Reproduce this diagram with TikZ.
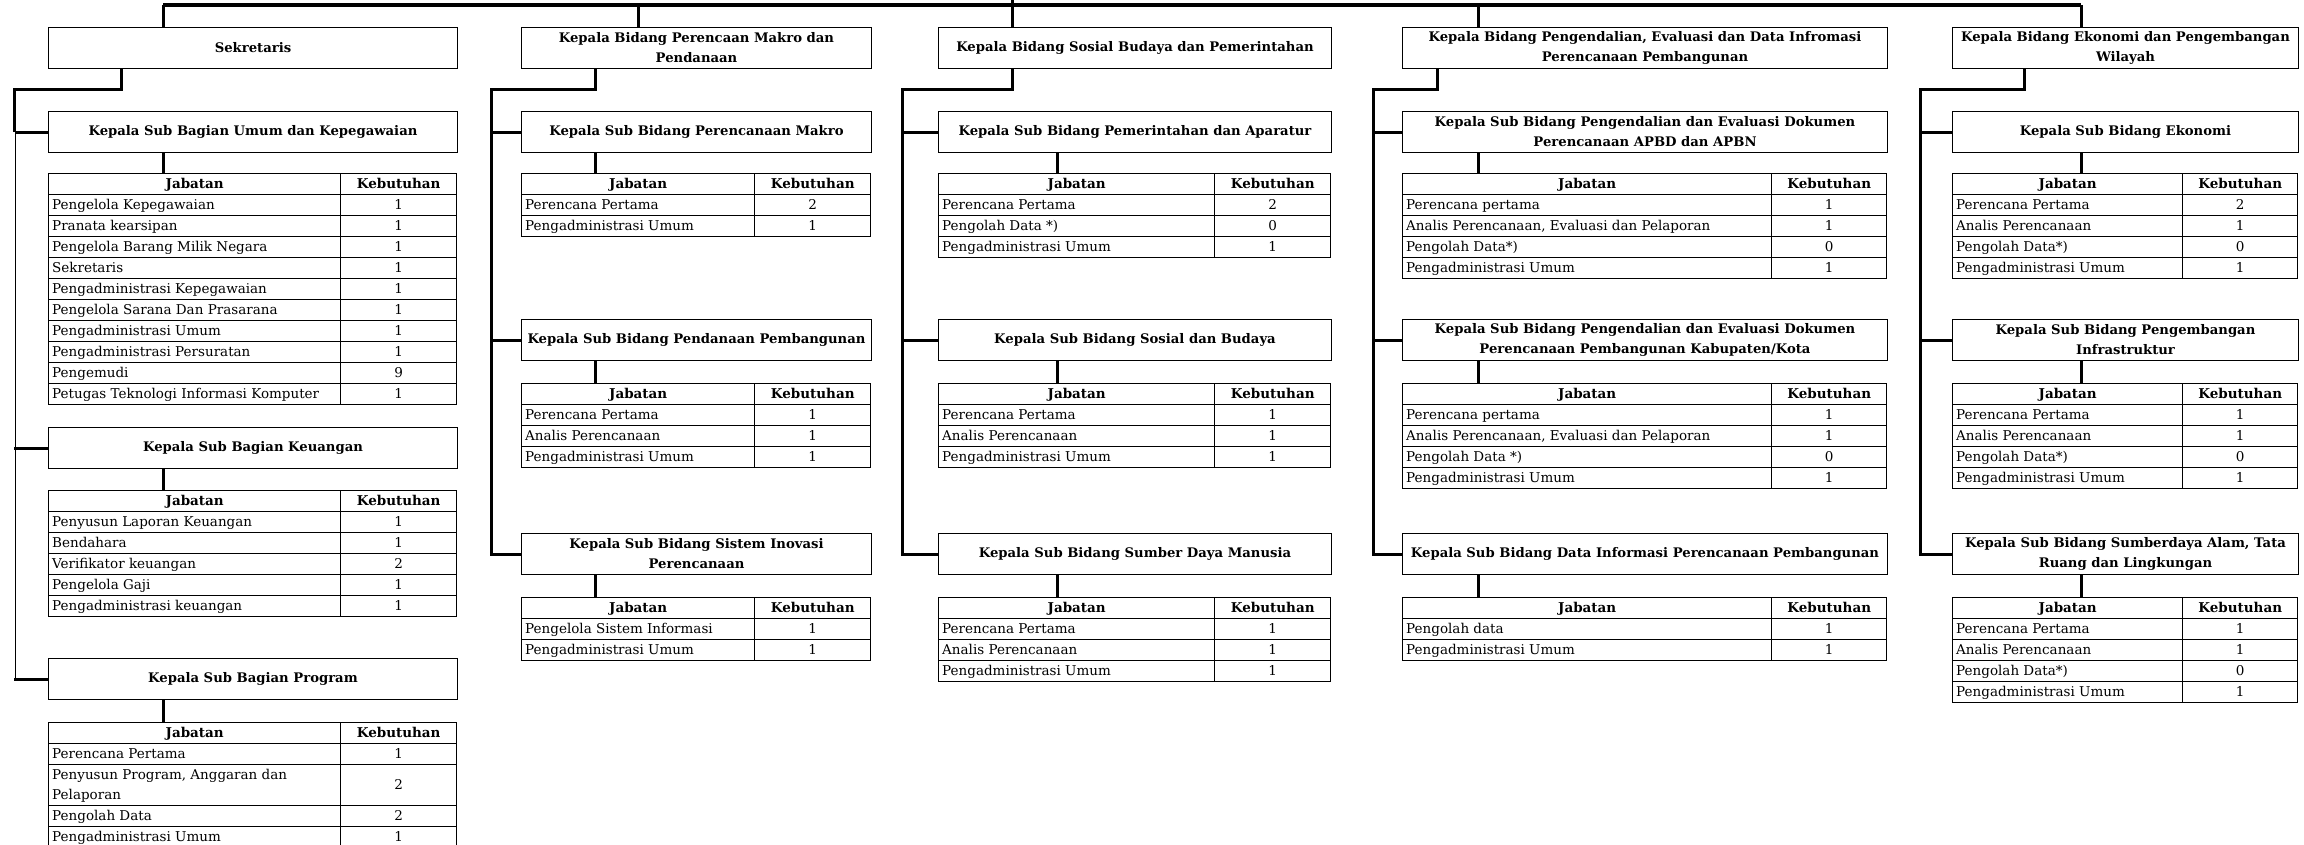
\documentclass[tikz,border=0pt]{standalone}
\usepackage{fontspec}
\setmainfont{DejaVu Serif}
\usepackage{array}
\setlength{\arrayrulewidth}{1pt}
\setlength{\tabcolsep}{3pt}
\renewcommand{\arraystretch}{1}
% table of posts: widths of both columns, then the rows
\newcommand{\jabtab}[3]{%
  \begin{tabular}{|m{#1pt}|>{\centering\arraybackslash}m{#2pt}|}\hline
  \multicolumn{1}{|c|}{\bfseries Jabatan} & \bfseries Kebutuhan\\\hline
  #3
  \end{tabular}}

\begin{document}
\begin{tikzpicture}[x=1pt,y=-1pt,
  boss/.style={draw,line width=1pt,minimum height=41,inner sep=2,align=center,
    anchor=north west,font=\bfseries\fontsize{13.2}{20}\selectfont},
  tab/.style={inner sep=0,anchor=north west,font=\fontsize{13.5}{20}\selectfont},
  bus/.style={line width=4pt},
  link/.style={line width=3pt},
  thinlink/.style={draw=black,double=white,line width=0.8pt,double distance=1.4pt}]
\useasboundingbox (0,0) rectangle (2304,844);

% column 1
\node[boss,minimum width=409] (sek) at (48,27) {Sekretaris};
\node[boss,minimum width=409] (umum) at (48,111) {Kepala Sub Bagian Umum dan Kepegawaian};
\node[tab] (tumum) at (48,173) {\jabtab{285}{109}{%
  Pengelola Kepegawaian & 1\\\hline
  Pranata kearsipan & 1\\\hline
  Pengelola Barang Milik Negara & 1\\\hline
  Sekretaris & 1\\\hline
  Pengadministrasi Kepegawaian & 1\\\hline
  Pengelola Sarana Dan Prasarana & 1\\\hline
  Pengadministrasi Umum & 1\\\hline
  Pengadministrasi Persuratan & 1\\\hline
  Pengemudi & 9\\\hline
  Petugas Teknologi Informasi Komputer & 1\\\hline}};
\node[boss,minimum width=409] (keu) at (48,427) {Kepala Sub Bagian Keuangan};
\node[tab] (tkeu) at (48,490) {\jabtab{285}{109}{%
  Penyusun Laporan Keuangan & 1\\\hline
  Bendahara & 1\\\hline
  Verifikator keuangan & 2\\\hline
  Pengelola Gaji & 1\\\hline
  Pengadministrasi keuangan & 1\\\hline}};
\node[boss,minimum width=409] (prog) at (48,658) {Kepala Sub Bagian Program};
\node[tab] (tprog) at (48,722) {\jabtab{285}{109}{%
  Perencana Pertama & 1\\\hline
  Penyusun Program, Anggaran dan\newline Pelaporan & 2\\\hline
  Pengolah Data & 2\\\hline
  Pengadministrasi Umum & 1\\\hline}};

% column 2
\node[boss,minimum width=350] (mak) at (521,27) {Kepala Bidang Perencaan Makro dan\\Pendanaan};
\node[boss,minimum width=350] (smak) at (521,111) {Kepala Sub Bidang Perencanaan Makro};
\node[tab] (tsmak) at (521,173) {\jabtab{226}{109}{%
  Perencana Pertama & 2\\\hline
  Pengadministrasi Umum & 1\\\hline}};
\node[boss,minimum width=350] (dana) at (521,319) {Kepala Sub Bidang Pendanaan Pembangunan};
\node[tab] (tdana) at (521,383) {\jabtab{226}{109}{%
  Perencana Pertama & 1\\\hline
  Analis Perencanaan & 1\\\hline
  Pengadministrasi Umum & 1\\\hline}};
\node[boss,minimum width=350] (ino) at (521,533) {Kepala Sub Bidang Sistem Inovasi\\Perencanaan};
\node[tab] (tino) at (521,597) {\jabtab{226}{109}{%
  Pengelola Sistem Informasi & 1\\\hline
  Pengadministrasi Umum & 1\\\hline}};

% column 3
\node[boss,minimum width=393] (sos) at (938,27) {Kepala Bidang Sosial Budaya dan Pemerintahan};
\node[boss,minimum width=393] (pem) at (938,111) {Kepala Sub Bidang Pemerintahan dan Aparatur};
\node[tab] (tpem) at (938,173) {\jabtab{269}{109}{%
  Perencana Pertama & 2\\\hline
  Pengolah Data *) & 0\\\hline
  Pengadministrasi Umum & 1\\\hline}};
\node[boss,minimum width=393] (bud) at (938,319) {Kepala Sub Bidang Sosial dan Budaya};
\node[tab] (tbud) at (938,383) {\jabtab{269}{109}{%
  Perencana Pertama & 1\\\hline
  Analis Perencanaan & 1\\\hline
  Pengadministrasi Umum & 1\\\hline}};
\node[boss,minimum width=393] (sdm) at (938,533) {Kepala Sub Bidang Sumber Daya Manusia};
\node[tab] (tsdm) at (938,597) {\jabtab{269}{109}{%
  Perencana Pertama & 1\\\hline
  Analis Perencanaan & 1\\\hline
  Pengadministrasi Umum & 1\\\hline}};

% column 4
\node[boss,minimum width=485] (dal) at (1402,27) {Kepala Bidang Pengendalian, Evaluasi dan Data Infromasi\\Perencanaan Pembangunan};
\node[boss,minimum width=485] (apb) at (1402,111) {Kepala Sub Bidang Pengendalian dan Evaluasi Dokumen\\Perencanaan APBD dan APBN};
\node[tab] (tapb) at (1402,173) {\jabtab{362}{108}{%
  Perencana pertama & 1\\\hline
  Analis Perencanaan, Evaluasi dan Pelaporan & 1\\\hline
  Pengolah Data*) & 0\\\hline
  Pengadministrasi Umum & 1\\\hline}};
\node[boss,minimum width=485] (kab) at (1402,319) {Kepala Sub Bidang Pengendalian dan Evaluasi Dokumen\\Perencanaan Pembangunan Kabupaten/Kota};
\node[tab] (tkab) at (1402,383) {\jabtab{362}{108}{%
  Perencana pertama & 1\\\hline
  Analis Perencanaan, Evaluasi dan Pelaporan & 1\\\hline
  Pengolah Data *) & 0\\\hline
  Pengadministrasi Umum & 1\\\hline}};
\node[boss,minimum width=485] (dat) at (1402,533) {Kepala Sub Bidang Data Informasi Perencanaan Pembangunan};
\node[tab] (tdat) at (1402,597) {\jabtab{362}{108}{%
  Pengolah data & 1\\\hline
  Pengadministrasi Umum & 1\\\hline}};

% column 5
\node[boss,minimum width=346] (eko) at (1952,27) {Kepala Bidang Ekonomi dan Pengembangan\\Wilayah};
\node[boss,minimum width=346] (seko) at (1952,111) {Kepala Sub Bidang Ekonomi};
\node[tab] (tseko) at (1952,173) {\jabtab{223}{108}{%
  Perencana Pertama & 2\\\hline
  Analis Perencanaan & 1\\\hline
  Pengolah Data*) & 0\\\hline
  Pengadministrasi Umum & 1\\\hline}};
\node[boss,minimum width=346] (inf) at (1952,319) {Kepala Sub Bidang Pengembangan\\Infrastruktur};
\node[tab] (tinf) at (1952,383) {\jabtab{223}{108}{%
  Perencana Pertama & 1\\\hline
  Analis Perencanaan & 1\\\hline
  Pengolah Data*) & 0\\\hline
  Pengadministrasi Umum & 1\\\hline}};
\node[boss,minimum width=346] (sda) at (1952,533) {Kepala Sub Bidang Sumberdaya Alam, Tata\\Ruang dan Lingkungan};
\node[tab] (tsda) at (1952,597) {\jabtab{223}{108}{%
  Perencana Pertama & 1\\\hline
  Analis Perencanaan & 1\\\hline
  Pengolah Data*) & 0\\\hline
  Pengadministrasi Umum & 1\\\hline}};

% top bus
\coordinate (h0) at (1012,0);
\coordinate (h1) at (163,5);
\coordinate (h2) at (638,5);
\coordinate (h4) at (1478,5);
\coordinate (h5) at (2081,5);
\draw[bus] (h1) -- (h5);
\draw[link] (h1) -- (h1 |- sek.north);
\draw[link] (h2) -- (h2 |- mak.north);
\draw[link] (h0) -- (h0 |- sos.north);
\draw[link] (h4) -- (h4 |- dal.north);
\draw[link] (h5) -- (h5 |- eko.north);

% trunks
\coordinate (b1) at (121,89);  \coordinate (t1) at (14,89);
\coordinate (b2) at (595,89);  \coordinate (t2) at (491,89);
\coordinate (b3) at (1012,89); \coordinate (t3) at (902,89);
\coordinate (b4) at (1437,89); \coordinate (t4) at (1373,89);
\coordinate (b5) at (2024,89); \coordinate (t5) at (1920,89);
\coordinate (k3) at (1057,89);

\draw[link] (b1 |- sek.south) -- (b1) -- (t1) -- (t1 |- umum.west) -- (umum.west);
\draw[thinlink] (t1 |- umum.west) -- (t1 |- prog.west);
\draw[link] (t1 |- keu.west) -- (keu.west);
\draw[link] (t1 |- prog.west) -- (prog.west);

\draw[link] (b2 |- mak.south) -- (b2) -- (t2) -- (t2 |- ino.west) -- (ino.west);
\draw[link] (t2 |- smak.west) -- (smak.west);
\draw[link] (t2 |- dana.west) -- (dana.west);

\draw[link] (b3 |- sos.south) -- (b3) -- (t3) -- (t3 |- sdm.west) -- (sdm.west);
\draw[link] (t3 |- pem.west) -- (pem.west);
\draw[link] (t3 |- bud.west) -- (bud.west);

\draw[link] (b4 |- dal.south) -- (b4) -- (t4) -- (t4 |- dat.west) -- (dat.west);
\draw[link] (t4 |- apb.west) -- (apb.west);
\draw[link] (t4 |- kab.west) -- (kab.west);

\draw[link] (b5 |- eko.south) -- (b5) -- (t5) -- (t5 |- sda.west) -- (sda.west);
\draw[link] (t5 |- seko.west) -- (seko.west);
\draw[link] (t5 |- inf.west) -- (inf.west);

% boxes to tables
\draw[link] (h1 |- umum.south) -- (h1 |- tumum.north);
\draw[link] (h1 |- keu.south) -- (h1 |- tkeu.north);
\draw[link] (h1 |- prog.south) -- (h1 |- tprog.north);
\draw[link] (b2 |- smak.south) -- (b2 |- tsmak.north);
\draw[link] (b2 |- dana.south) -- (b2 |- tdana.north);
\draw[link] (b2 |- ino.south) -- (b2 |- tino.north);
\draw[link] (k3 |- pem.south) -- (k3 |- tpem.north);
\draw[link] (k3 |- bud.south) -- (k3 |- tbud.north);
\draw[link] (k3 |- sdm.south) -- (k3 |- tsdm.north);
\draw[link] (h4 |- apb.south) -- (h4 |- tapb.north);
\draw[link] (h4 |- kab.south) -- (h4 |- tkab.north);
\draw[link] (h4 |- dat.south) -- (h4 |- tdat.north);
\draw[link] (h5 |- seko.south) -- (h5 |- tseko.north);
\draw[link] (h5 |- inf.south) -- (h5 |- tinf.north);
\draw[link] (h5 |- sda.south) -- (h5 |- tsda.north);
\end{tikzpicture}
\end{document}
